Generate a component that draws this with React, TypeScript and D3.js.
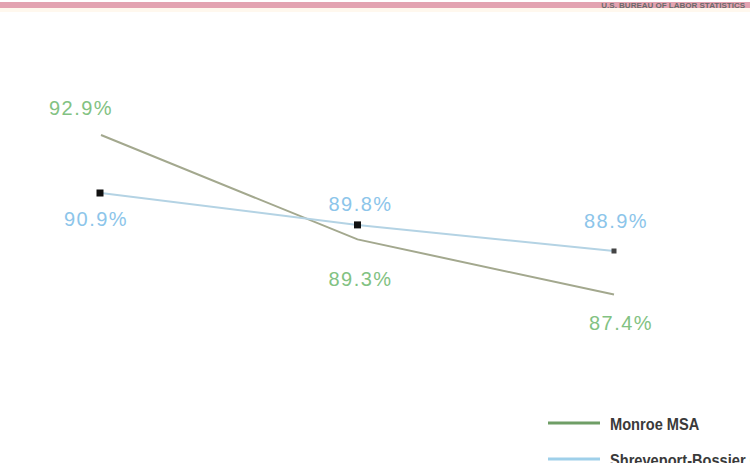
import React from "react";
import * as d3 from "d3";

const categories = ["Year 1", "Year 2", "Year 3"];
const monroeValues = [92.9, 89.3, 87.4];
const shreveportValues = [90.9, 89.8, 88.9];
const seriesNames = ["Monroe MSA", "Shreveport-Bossier City MSA"];
const headerText = "U.S. BUREAU OF LABOR STATISTICS";

const W = 750;
const H = 463;

export default function App() {
  const x = d3.scalePoint<string>().domain(categories).range([101, 614]);
  const y = d3.scaleLinear().domain([85, 95]).range([364.1, 74.1]);

  const line = d3
    .line<number>()
    .x((_, i) => x(categories[i]) as number)
    .y((d) => y(d));

  const fmt = (v: number) => v.toFixed(1) + "%";

  const greenLabelOffsets = [
    [-20, -20],
    [3, 47],
    [7, 35],
  ];
  const blueLabelOffsets = [
    [-5, 33],
    [3, -14],
    [2, -23],
  ];

  const labelFont = "'Liberation Sans', Arial, sans-serif";

  return (
    <div style={{ position: "absolute", left: 0, top: 0 }}>
      <svg width={W} height={H} style={{ display: "block", background: "#fff" }}>
        <rect x={0} y={2} width={W} height={6} fill="#e3a3b1" />
        <rect x={0} y={8} width={W} height={4} fill="#fff8ee" />
        <text
          x={745}
          y={8}
          textAnchor="end"
          fontSize={8}
          fontWeight="bold"
          fill="#6a6a6a"
          fontFamily={labelFont}
        >
          {headerText}
        </text>

        <path
          d={line(monroeValues) || ""}
          fill="none"
          stroke="#a3a88e"
          strokeWidth={2}
        />
        <path
          d={line(shreveportValues) || ""}
          fill="none"
          stroke="#b4d3e4"
          strokeWidth={2}
        />

        {shreveportValues.map((v, i) => {
          const s = i === 2 ? 5 : 7;
          return (
            <rect
              key={"m" + i}
              x={(x(categories[i]) as number) - s / 2 - (i === 0 ? 1 : 0)}
              y={y(v) - s / 2}
              width={s}
              height={s}
              fill={i === 2 ? "#444" : "#111"}
            />
          );
        })}

        {monroeValues.map((v, i) => (
          <text
            key={"g" + i}
            x={(x(categories[i]) as number) + greenLabelOffsets[i][0]}
            y={y(v) + greenLabelOffsets[i][1]}
            textAnchor="middle"
            fontSize={20}
            letterSpacing={1.5}
            fill="#82c282"
            fontFamily={labelFont}
          >
            {fmt(v)}
          </text>
        ))}
        {shreveportValues.map((v, i) => (
          <text
            key={"b" + i}
            x={(x(categories[i]) as number) + blueLabelOffsets[i][0]}
            y={y(v) + blueLabelOffsets[i][1]}
            textAnchor="middle"
            fontSize={20}
            letterSpacing={1.5}
            fill="#8cc5ea"
            fontFamily={labelFont}
          >
            {fmt(v)}
          </text>
        ))}

        {seriesNames.map((name, i) => (
          <g key={"l" + i} transform={`translate(548, ${423 + i * 36})`}>
            <line
              x1={0}
              x2={52}
              y1={0}
              y2={0}
              stroke={i === 0 ? "#6f9e66" : "#9fd0ea"}
              strokeWidth={3}
            />
            <text
              transform="translate(62, 7) scale(0.86, 1)"
              fontSize={17}
              fontWeight="bold"
              fill="#3a3a3a"
              fontFamily={labelFont}
            >
              {name}
            </text>
          </g>
        ))}
      </svg>
    </div>
  );
}
